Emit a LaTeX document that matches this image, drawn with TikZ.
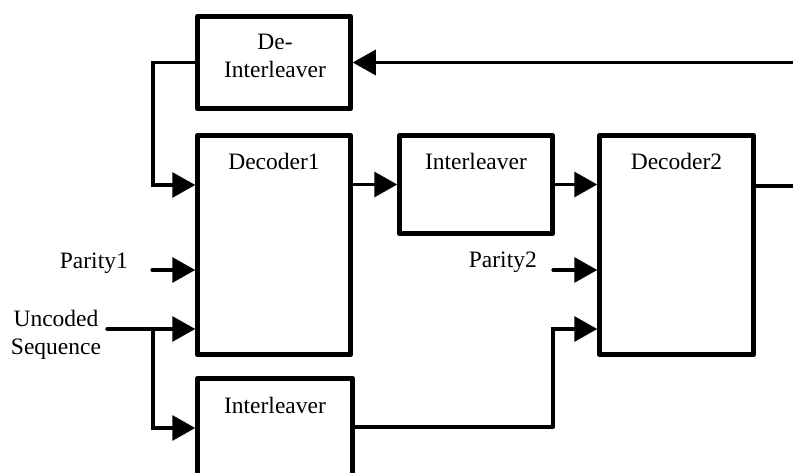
\documentclass[tikz,border=0pt]{standalone}
\usepackage{fontspec}
\setmainfont{Liberation Serif}
\usetikzlibrary{arrows.meta}
\tikzset{
  blk/.style={draw, line width=5.5pt, line join=round, rectangle, inner sep=0pt},
  conn/.style={line width=3.2pt, line cap=round, line join=miter},
  arr/.style={conn, -{Triangle[length=23pt,width=25pt]}, shorten >=-0.5pt},
  txt/.style={font=\fontsize{23.5}{28}\selectfont, inner sep=0pt, align=center},
}
\begin{document}
\begin{tikzpicture}[x=1pt,y=-1pt]
\clip (0,0) rectangle (793,473);
\fill[white] (0,0) rectangle (793,473);
% blocks
\node[blk, minimum width=153pt, minimum height=92pt] (deint) at (274,62.5) {};
\node[blk, minimum width=153pt, minimum height=219pt] (dec1) at (274,245) {};
\node[blk, minimum width=153pt, minimum height=98pt] (il1) at (476,184.5) {};
\node[blk, minimum width=154pt, minimum height=219pt] (dec2) at (676.5,245) {};
\node[blk, minimum width=155pt, minimum height=130pt] (il2) at (275,443.5) {};
% texts
\node[txt, anchor=base] (tdeint) at (275,78) {De-\\Interleaver};
\node[txt, anchor=base] (tdec1) at (274,170) {Decoder1};
\node[txt, anchor=base] (til1) at (476,170) {Interleaver};
\node[txt, anchor=base] (tdec2) at (676.5,170) {Decoder2};
\node[txt, anchor=base] (til2) at (275,413) {Interleaver};
\node[txt, anchor=base east] (tp1) at (128,269) {Parity1};
\node[txt, anchor=base east] (tp2) at (537,268) {Parity2};
\node[txt, anchor=base] (tunc) at (56,354) {Uncoded\\Sequence};
% coordinates
\coordinate (fbin) at (793,62.5);
\coordinate (dec2out) at (793,186);
\coordinate (p1s) at (152,270);
\coordinate (p2s) at (553,270);
\coordinate (us) at (107,329);
\coordinate (ubr) at (153,329);
\coordinate (dl) at (153,62.5);
\coordinate (rb) at (553,427);
% connectors
\draw[arr] (fbin) -- (deint.east);
\draw[arr] (deint.west) -- (dl) |- (dec1.west |- 0,185);
\draw[arr] (dec1.east |- il1.west) -- (il1.west);
\draw[arr] (il1.east) -- (dec2.west |- il1.east);
\draw[conn] (dec2.east |- dec2out) -- (dec2out);
\draw[arr] (p1s) -- (dec1.west |- p1s);
\draw[arr] (us) -- (dec1.west |- us);
\draw[arr] (ubr) |- (il2.west |- 0,428);
\draw[arr] (p2s) -- (dec2.west |- p2s);
\draw[conn] (il2.east |- rb) -- (rb);
\draw[arr] (rb) |- (dec2.west |- us);
\end{tikzpicture}
\end{document}
